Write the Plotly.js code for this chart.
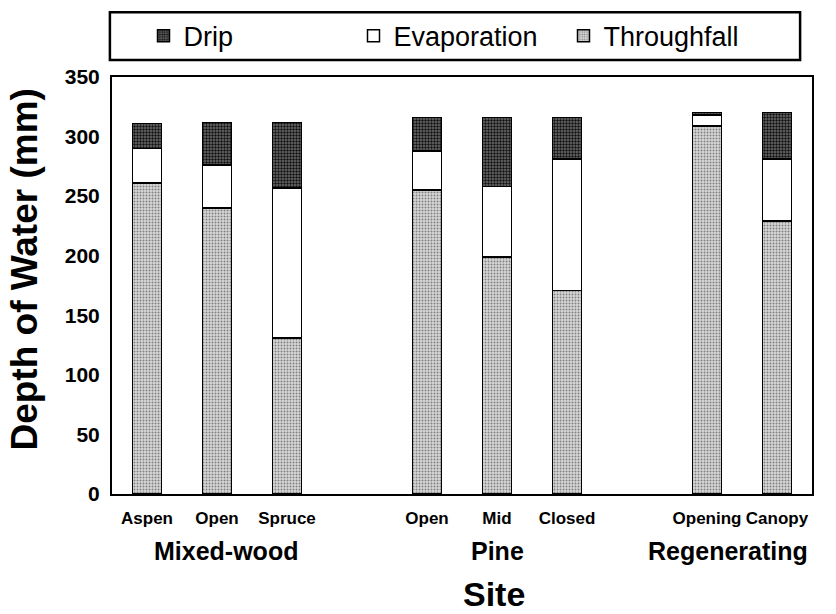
<!DOCTYPE html>
<html>
<head>
<meta charset="utf-8">
<script src="https://cdn.plot.ly/plotly-3.0.1.min.js"></script>
<style>html,body{margin:0;padding:0;background:#fff;}#chart{width:836px;height:614px;}</style>
</head>
<body>
<div id="chart"></div>
<script>
// Data
const siteLabels = ["Aspen", "Open", "Spruce", "Open", "Mid", "Closed", "Opening", "Canopy"];
const sitePositions = [0, 1, 2, 4, 5, 6, 8, 9];
const groupNames = ["Mixed-wood", "Pine", "Regenerating"];
const throughfall = [261, 240, 131, 255, 199, 171, 309, 229];
const evaporation = [29, 36, 126, 33, 59, 110, 9, 52];
const drip = [21, 36, 55, 28, 58, 35, 2, 39];
const yTicks = [0, 50, 100, 150, 200, 250, 300, 350];

const FONT = "Liberation Sans, Arial, sans-serif";
const barLine = {color: "#000", width: 1.5};

const traces = [
  {type: "bar", name: "Throughfall", x: sitePositions, y: throughfall, width: 0.42,
   marker: {color: "#d2d2d2", line: barLine,
            pattern: {shape: ".", fgcolor: "#808080", bgcolor: "#d8d8d8", size: 3, solidity: 0.35}}},
  {type: "bar", name: "Evaporation", x: sitePositions, y: evaporation, width: 0.42,
   marker: {color: "#ffffff", line: barLine}},
  {type: "bar", name: "Drip", x: sitePositions, y: drip, width: 0.42,
   marker: {color: "#404040", line: barLine,
            pattern: {shape: ".", fgcolor: "#111111", bgcolor: "#707070", size: 3, solidity: 0.5}}}
];

const groupX = [1.13, 5, 8.3];
const annotations = groupNames.map((g, i) => ({
  text: "<b>" + g + "</b>", x: groupX[i], xref: "x", y: -0.136, yref: "paper",
  showarrow: false, font: {family: FONT, size: 25, color: "#000"}, xanchor: "center", yanchor: "middle"
}));
annotations.push({text: "<b>Site</b>", x: 4.95, xref: "x", y: -0.24, yref: "paper",
  showarrow: false, font: {family: FONT, size: 34, color: "#000"}, xanchor: "center", yanchor: "middle"});
annotations.push({text: "<b>Depth of Water (mm)</b>", x: -0.125, xref: "paper", y: 0.537, yref: "paper",
  textangle: -90, showarrow: false, font: {family: FONT, size: 37, color: "#000"}, xanchor: "center", yanchor: "middle"});

const layout = {
  width: 836, height: 614,
  margin: {l: 112, r: 24, t: 75, b: 120},
  paper_bgcolor: "#fff", plot_bgcolor: "#fff",
  barmode: "stack",
  font: {family: FONT, color: "#000"},
  showlegend: true,
  legend: {orientation: "h", traceorder: "reversed", x: 0.495, xanchor: "center", y: 1.098, yanchor: "middle",
           borderwidth: 0, bgcolor: "rgba(0,0,0,0)",
           font: {family: FONT, size: 27, color: "#000"}, entrywidth: 165, entrywidthmode: "pixels"},
  shapes: [{type: "rect", xref: "paper", yref: "paper", x0: -0.003, x1: 0.983, y0: 1.0406, y1: 1.155,
            line: {color: "#000", width: 2.5}, fillcolor: "rgba(0,0,0,0)"}],
  xaxis: {range: [-0.5, 9.5], tickmode: "array", tickvals: sitePositions, ticktext: siteLabels.map(s => "<b>" + s + "</b>"),
          ticks: "", tickangle: 0, ticklabelstandoff: 8, showgrid: false, zeroline: false, showline: true, linecolor: "#000", linewidth: 2, mirror: true,
          tickfont: {family: FONT, size: 17, color: "#000"}, fixedrange: true},
  yaxis: {range: [0, 350], tickmode: "array", tickvals: yTicks, ticktext: yTicks.map(v => "<b>" + v + "</b>"),
          ticks: "", ticklabelstandoff: 6, showgrid: false, zeroline: false, showline: true, linecolor: "#000", linewidth: 2, mirror: true,
          tickfont: {family: FONT, size: 21, color: "#000"}, fixedrange: true},
  annotations: annotations
};

Plotly.newPlot("chart", traces, layout, {displayModeBar: false, staticPlot: true});
</script>
</body>
</html>
